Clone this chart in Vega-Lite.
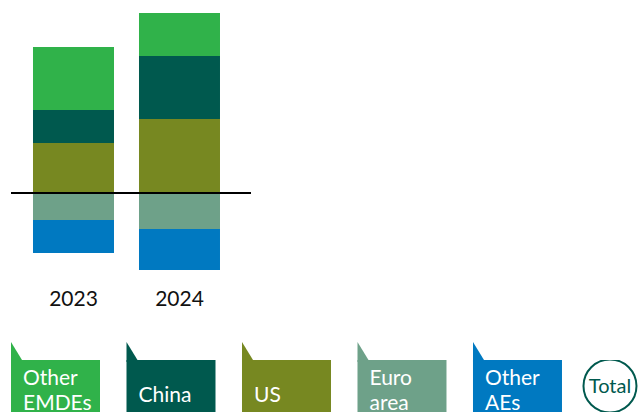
{
  "$schema": "https://vega.github.io/schema/vega-lite/v6.json",
  "padding": {"left": 10, "top": 0, "right": 0, "bottom": 0},
  "bounds": "flush",
  "spacing": 80,
  "config": {"view": {"stroke": null}, "font": "Lato"},
  "vconcat": [
    {
      "width": 240,
      "height": 280,
      "data": {
        "values": [
          {"year": "2023", "region": "US", "value": 2.5},
          {"year": "2023", "region": "China", "value": 1.65},
          {"year": "2023", "region": "Other EMDEs", "value": 3.15},
          {"year": "2023", "region": "Euro area", "value": -1.35},
          {"year": "2023", "region": "Other AEs", "value": -1.65},
          {"year": "2024", "region": "US", "value": 3.7},
          {"year": "2024", "region": "China", "value": 3.15},
          {"year": "2024", "region": "Other EMDEs", "value": 2.15},
          {"year": "2024", "region": "Euro area", "value": -1.8},
          {"year": "2024", "region": "Other AEs", "value": -2.05}
        ]
      },
      "layer": [
        {
          "transform": [
            {"calculate": "indexof(['US','China','Other EMDEs','Euro area','Other AEs'], datum.region)", "as": "stackOrder"}
          ],
          "mark": {"type": "bar"},
          "encoding": {
            "x": {
              "field": "year",
              "type": "nominal",
              "scale": {"paddingInner": 0.2358, "paddingOuter": 0.25, "align": 0.415},
              "axis": {
                "title": null,
                "domain": false,
                "ticks": false,
                "tickSize": 0,
                "labelAngle": 0,
                "labelFontSize": 21,
                "labelFont": "Lato",
                "labelColor": "#111111",
                "labelPadding": 8
              }
            },
            "y": {
              "field": "value",
              "type": "quantitative",
              "stack": "zero",
              "scale": {"domain": [-4.35, 9.65], "nice": false, "zero": false},
              "axis": null
            },
            "color": {
              "field": "region",
              "type": "nominal",
              "scale": {
                "domain": ["Other EMDEs", "China", "US", "Euro area", "Other AEs"],
                "range": ["#30b24a", "#00594e", "#778821", "#6ea189", "#0079c1"]
              },
              "legend": null
            },
            "order": {"field": "stackOrder", "type": "quantitative"}
          }
        },
        {
          "data": {"values": [{"line": "zero"}]},
          "mark": {"type": "rule", "color": "#000000", "strokeWidth": 2},
          "encoding": {"y": {"datum": 0}}
        }
      ]
    },
    {
      "width": 628,
      "height": 52,
      "layer": [
        {
          "data": {
            "values": [
              {"region": "Other EMDEs"},
              {"region": "China"},
              {"region": "US"},
              {"region": "Euro area"},
              {"region": "Other AEs"}
            ]
          },
          "encoding": {
            "x": {
              "field": "region",
              "type": "nominal",
              "sort": null,
              "scale": {
                "domain": ["Other EMDEs", "China", "US", "Euro area", "Other AEs"],
                "paddingInner": 0.2294,
                "paddingOuter": 0.3334,
                "align": 0
              },
              "axis": null
            }
          },
          "layer": [
            {
              "mark": {"type": "rect", "clip": true},
              "encoding": {
                "color": {
                  "field": "region",
                  "type": "nominal",
                  "scale": {
                    "domain": ["Other EMDEs", "China", "US", "Euro area", "Other AEs"],
                    "range": ["#30b24a", "#00594e", "#778821", "#6ea189", "#0079c1"]
                  },
                  "legend": null
                }
              }
            },
            {
              "mark": {"type": "point", "shape": "M0,-44L11,-26L11,-24L0,-24Z", "size": 4, "filled": true, "opacity": 1, "strokeWidth": 0},
              "encoding": {
                "x": {"field": "region", "type": "nominal", "bandPosition": 0},
                "color": {"field": "region", "type": "nominal", "legend": null}
              }
            },
            {
              "transform": [{"filter": {"field": "region", "oneOf": ["Other EMDEs", "Euro area", "Other AEs"]}}],
              "mark": {"type": "text", "align": "left", "baseline": "alphabetic", "dx": 12, "dy": -1, "fontSize": 21, "lineHeight": 25, "lineBreak": " ", "color": "#ffffff", "font": "Lato", "clip": true},
              "encoding": {
                "x": {"field": "region", "type": "nominal", "bandPosition": 0},
                "text": {"field": "region"}
              }
            },
            {
              "transform": [{"filter": {"field": "region", "oneOf": ["China", "US"]}}],
              "mark": {"type": "text", "align": "left", "baseline": "alphabetic", "dx": 12, "dy": 16, "fontSize": 21, "color": "#ffffff", "font": "Lato", "clip": true},
              "encoding": {
                "x": {"field": "region", "type": "nominal", "bandPosition": 0},
                "text": {"field": "region"}
              }
            }
          ]
        },
        {
          "data": {"values": [{"item": "Total"}]},
          "encoding": {
            "x": {
              "field": "item",
              "type": "nominal",
              "scale": {"type": "point", "domain": ["Total"], "padding": 0.5, "align": 0.9538},
              "axis": null
            }
          },
          "layer": [
            {
              "mark": {"type": "point", "shape": "circle", "size": 2809, "filled": false, "opacity": 1, "stroke": "#00594e", "strokeWidth": 2, "clip": true}
            },
            {
              "mark": {"type": "text", "fontSize": 20, "font": "Lato", "color": "#00594e", "align": "center", "baseline": "middle", "dy": 1},
              "encoding": {"text": {"field": "item"}}
            }
          ]
        }
      ],
      "resolve": {"scale": {"x": "independent"}}
    }
  ]
}
